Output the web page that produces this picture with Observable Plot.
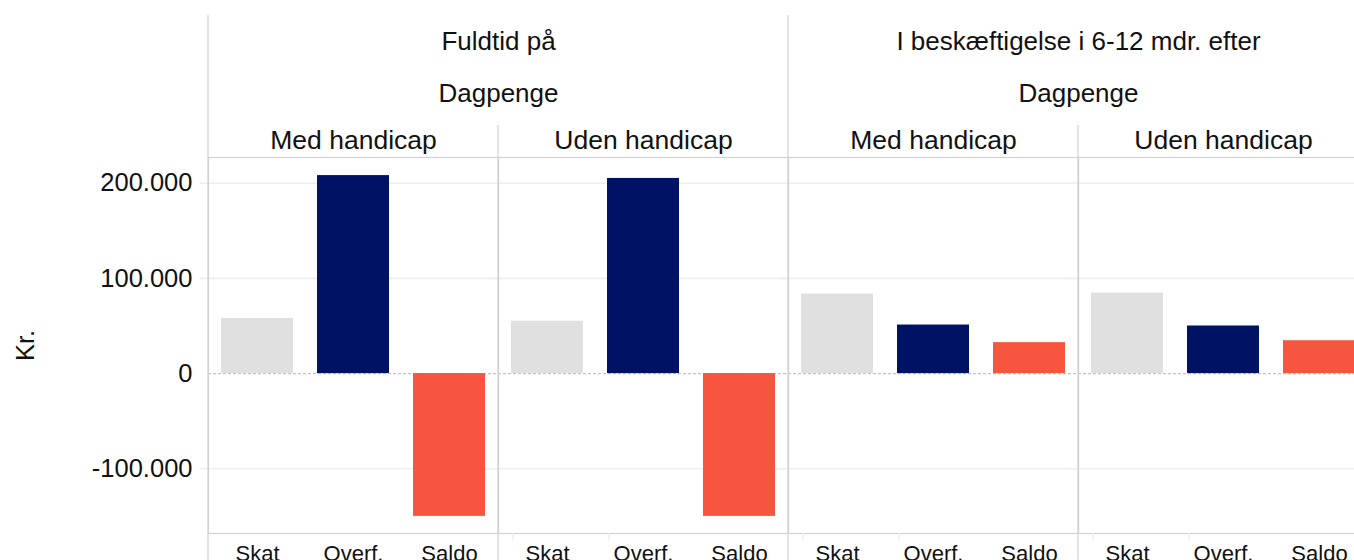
<!DOCTYPE html>
<html>
<head>
<meta charset="utf-8">
<script src="https://cdn.jsdelivr.net/npm/d3@7"></script>
<script src="https://cdn.jsdelivr.net/npm/@observablehq/plot@0.6"></script>
<style>
  html, body { margin: 0; padding: 0; background: #fff; overflow: hidden; }
  svg { max-width: none !important; }
</style>
</head>
<body>
<div id="chart"></div>
<script>
// ---- data ----
const categories = ["Skat", "Overf.", "Saldo"];
const groups = ["Fuldtid på", "I beskæftigelse i 6-12 mdr. efter"];
const ydelse = ["Dagpenge", "Dagpenge"];
const handicap = ["Med handicap", "Uden handicap"];
// panels: Fuldtid/Med, Fuldtid/Uden, Beskæftigelse/Med, Beskæftigelse/Uden
const skat  = [58000, 55000, 83500, 84500];
const overf = [208000, 205000, 51000, 50000];
const saldo = [-150000, -150000, 32500, 34500];
const yTicks = [-100000, 0, 100000, 200000];
const colors = ["#e0e0e0", "#001264", "#f5563d"];

// ---- build tables ----
const panels = [];
groups.forEach((g, gi) => handicap.forEach(h => panels.push({key: g + " | " + h, group: g, ydelse: ydelse[gi], handicap: h})));
const series = [skat, overf, saldo];
const rows = [];
panels.forEach((p, pi) => categories.forEach((c, ci) => rows.push({panel: p.key, cat: c, value: series[ci][pi]})));
const handicapLabels = panels.map(p => ({panel: p.key, text: p.handicap}));
const firstOfGroup = panels.filter((p, i) => i % 2 === 0);
const ydelseLabels = firstOfGroup.map(p => ({panel: p.key, text: p.ydelse}));
const groupLabels = firstOfGroup.map(p => ({panel: p.key, text: p.group}));

const locale = d3.formatLocale({decimal: ",", thousands: ".", grouping: [3], currency: ["", " kr."], minus: "-"});
const fmt = locale.format(",.0f");

const W = 1368, H = 580;
const textColor = "#111";
const font = "'Liberation Sans', Arial, sans-serif";

const chart = Plot.plot({
  width: W,
  height: H,
  marginLeft: 208,
  marginRight: 0,
  marginTop: 157,
  marginBottom: 47,
  style: {fontFamily: font, fontSize: "25px", color: textColor, background: "#fff"},
  fx: {domain: panels.map(p => p.key), padding: 0, axis: null},
  x: {domain: categories, paddingInner: 0.25, paddingOuter: 0.12, axis: null},
  y: {domain: [-168000, 227000], axis: null},
  color: {domain: categories, range: colors},
  marks: [
    Plot.ruleY([-100000, 100000, 200000], {stroke: "#efefef", strokeWidth: 1.6, insetLeft: -8}),
    Plot.ruleY([0], {stroke: "#c4c4c4", strokeWidth: 1.2, strokeDasharray: "3,2"}),
    Plot.barY(rows, {fx: "panel", x: "cat", y: "value", fill: "cat"}),
    Plot.frame({stroke: "#d2d2d2", strokeWidth: 1.2}),
    Plot.axisY({
      ticks: yTicks, tickFormat: fmt, tickSize: 0, tickPadding: 16, fontSize: 25.5,
      label: "Kr.", labelAnchor: "center", labelOffset: 193, labelArrow: false
    }),
    Plot.axisX({tickSize: 0, tickPadding: 12, fontSize: 22, label: null}),
    Plot.text(handicapLabels, {fx: "panel", text: "text", frameAnchor: "top", textAnchor: "middle", lineAnchor: "middle", dy: -17, fontSize: 26.5, fill: textColor}),
    Plot.text(ydelseLabels, {fx: "panel", text: "text", frameAnchor: "top-right", textAnchor: "middle", lineAnchor: "middle", dy: -64, fontSize: 26, fill: textColor}),
    Plot.text(groupLabels, {fx: "panel", text: "text", frameAnchor: "top-right", textAnchor: "middle", lineAnchor: "middle", dy: -116, fontSize: 26, fill: textColor})
  ]
});

// header / footer separator lines drawn with Plot's own scales
const fxs = chart.scale("fx");
const xs = chart.scale("x");
const svg = d3.select(chart.tagName.toLowerCase() === "svg" ? chart : chart.querySelector("svg"));
const g = svg.append("g").attr("stroke", "#d2d2d2").attr("stroke-width", 1.2);
panels.forEach((p, i) => {
  const left = fxs.apply(p.key);
  g.append("line").attr("x1", left).attr("x2", left)
    .attr("y1", i % 2 === 0 ? 15 : 125).attr("y2", H);
});
const tg = svg.append("g").attr("stroke", "#ececec").attr("stroke-width", 1.2);
panels.forEach(p => {
  const left = fxs.apply(p.key);
  for (let ci = 0; ci < categories.length - 1; ci++) {
    const xm = left + xs.apply(categories[ci]) + xs.bandwidth + (xs.step - xs.bandwidth) / 2;
    tg.append("line").attr("x1", xm).attr("x2", xm).attr("y1", H - 47).attr("y2", H - 39);
  }
});

document.getElementById("chart").appendChild(chart);
</script>
</body>
</html>
